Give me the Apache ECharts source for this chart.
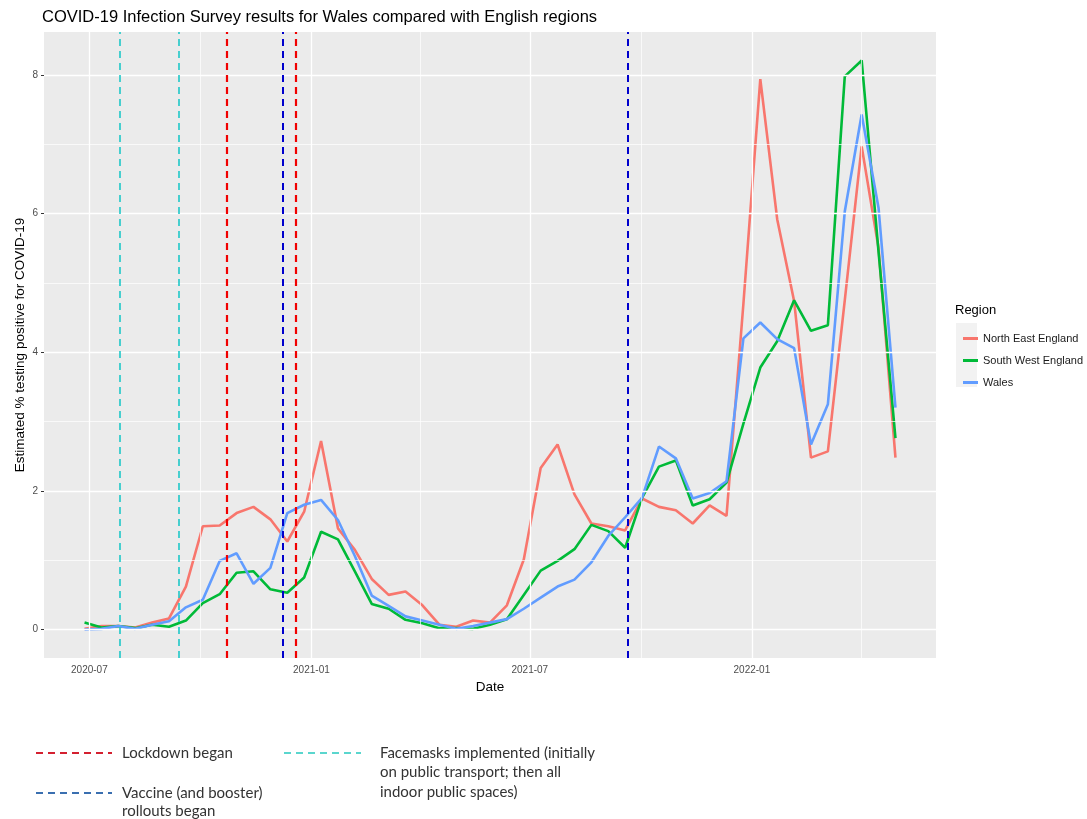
<!DOCTYPE html>
<html><head><meta charset="utf-8">
<script src="https://cdn.jsdelivr.net/npm/echarts@6/dist/echarts.min.js"></script>
<style>html,body{margin:0;padding:0;background:#fff;}#c{width:1087px;height:819px;}</style>
</head><body><div id="c"></div>
<script>
// ---- data ----
const dates = ['2020-06-27','2020-07-11','2020-07-25','2020-08-08','2020-08-22','2020-09-05','2020-09-19','2020-10-03','2020-10-17','2020-10-31',
'2020-11-14','2020-11-28','2020-12-12','2020-12-26','2021-01-09','2021-01-23','2021-02-06','2021-02-20','2021-03-06','2021-03-20',
'2021-04-03','2021-04-17','2021-05-01','2021-05-15','2021-05-29','2021-06-12','2021-06-26','2021-07-10','2021-07-24','2021-08-07',
'2021-08-21','2021-09-04','2021-09-18','2021-10-02','2021-10-16','2021-10-30','2021-11-13','2021-11-27','2021-12-11','2021-12-25',
'2022-01-08','2022-01-22','2022-02-05','2022-02-19','2022-03-05','2022-03-19','2022-04-02','2022-04-16','2022-04-30'];
const northEast = [0.01,0.05,0.05,0.03,0.10,0.16,0.62,1.49,1.50,1.68,
1.77,1.59,1.27,1.70,2.72,1.46,1.15,0.73,0.50,0.55,
0.35,0.07,0.04,0.13,0.10,0.35,1.01,2.33,2.67,1.95,
1.53,1.49,1.43,1.89,1.77,1.72,1.53,1.79,1.64,4.70,
7.94,5.92,4.74,2.48,2.57,4.75,6.97,5.50,2.48];
const southWest = [0.10,0.03,0.05,0.02,0.07,0.04,0.13,0.38,0.51,0.82,
0.84,0.58,0.53,0.75,1.41,1.30,0.84,0.37,0.30,0.14,
0.09,0.02,0.02,0.01,0.07,0.15,0.50,0.85,0.99,1.16,
1.51,1.42,1.18,1.90,2.35,2.44,1.79,1.88,2.12,2.97,
3.78,4.16,4.75,4.31,4.39,7.98,8.21,5.45,2.76];
const wales = [0.00,0.01,0.05,0.01,0.07,0.12,0.32,0.43,0.99,1.10,
0.66,0.89,1.68,1.80,1.87,1.58,1.06,0.49,0.34,0.19,
0.13,0.07,0.01,0.05,0.10,0.15,0.30,0.46,0.62,0.72,
0.97,1.35,1.62,1.90,2.64,2.47,1.89,1.97,2.14,4.20,
4.43,4.19,4.06,2.67,3.25,6.03,7.43,6.08,3.20];
const seriesNames = ['North East England','South West England','Wales'];
const xTickDates = ['2020-07-01','2021-01-01','2021-07-01','2022-01-01'];
const xMinorDates = ['2020-10-01','2021-04-01T12:00:00','2021-10-01','2022-04-01T12:00:00'];
const yTicks = [0,2,4,6,8];
const yMinor = [1,3,5,7];
const lockdownDates = ['2020-10-23','2020-12-19'];
const vaccineDates = ['2020-12-08','2021-09-20'];
const facemaskDates = ['2020-07-26','2020-09-13'];

// ---- build ----
const ts = s => new Date(s.length === 10 ? s + 'T00:00:00' : s).getTime();
const t0 = ts(dates[0]), t1 = ts(dates[dates.length-1]);
const xMin = t0 - 0.05*(t1-t0), xMax = t1 + 0.05*(t1-t0);
const allVals = northEast.concat(southWest, wales);
const vMin = Math.min(...allVals), vMax = Math.max(...allVals);
const yMin = vMin - 0.05*(vMax-vMin), yMax = vMax + 0.05*(vMax-vMin);
const pair = arr => dates.map((d,i)=>[ts(d), arr[i]]);
const colors = ['#F8766D','#00BA38','#619CFF'];
const FONT = 'Liberation Sans';

const gridMarks = [].concat(
  yMinor.map(v=>({yAxis:v, lineStyle:{width:0.7}})),
  xMinorDates.map(d=>({xAxis:ts(d), lineStyle:{width:0.7}})),
  yTicks.map(v=>({yAxis:v, lineStyle:{width:1.3}})),
  xTickDates.map(d=>({xAxis:ts(d), lineStyle:{width:1.3}}))
);
function eventSeries(name, list, color, width){
  return {name:name, type:'line', data:[], z:5, silent:true,
    markLine:{silent:true, symbol:['none','none'], label:{show:false}, animation:false,
      lineStyle:{color:color, width:width, type:[7,5]},
      data:list.map(d=>({xAxis:ts(d)}))}};
}

const chart = echarts.init(document.getElementById('c'), null, {renderer:'canvas'});
chart.setOption({
  animation:false,
  backgroundColor:'#ffffff',
  textStyle:{fontFamily:FONT},
  title:{text:'COVID-19 Infection Survey results for Wales compared with English regions',
    left:37, top:4, textStyle:{fontSize:16.5, fontWeight:'normal', color:'#000', fontFamily:FONT}},
  grid:{left:44, right:151, top:32, bottom:161, show:true, backgroundColor:'#EBEBEB', borderWidth:0},
  legend:{data:seriesNames, orient:'vertical', left:958, top:327.5, itemWidth:15, itemHeight:3, itemGap:10,
    icon:'rect', selectedMode:false,
    textStyle:{fontSize:11, color:'#1a1a1a', fontFamily:FONT, lineHeight:12}},
  xAxis:{type:'value', min:xMin, max:xMax, scale:true,
    name:'Date', nameLocation:'middle', nameGap:21, nameTextStyle:{fontSize:13.5, color:'#000', fontFamily:FONT},
    axisLine:{show:false},
    axisTick:{show:true, length:3, customValues:xTickDates.map(ts), lineStyle:{color:'#333'}},
    axisLabel:{customValues:xTickDates.map(ts), margin:7, fontSize:10, color:'#4d4d4d', fontFamily:FONT,
      formatter:function(v){const d=new Date(v);return d.getFullYear()+'-'+String(d.getMonth()+1).padStart(2,'0');}},
    splitLine:{show:false}},
  yAxis:{type:'value', min:yMin, max:yMax,
    name:'Estimated % testing positive for COVID-19', nameLocation:'middle', nameGap:17, nameMoveOverlap:false,
    nameTextStyle:{fontSize:13.5, color:'#000', fontFamily:FONT},
    axisLine:{show:false},
    axisTick:{show:true, length:3, customValues:yTicks, lineStyle:{color:'#333'}},
    axisLabel:{customValues:yTicks, margin:6, fontSize:10, color:'#4d4d4d', fontFamily:FONT},
    splitLine:{show:false}},
  series:[
    {name:'grid', type:'line', data:[], z:1, silent:true,
      markLine:{silent:true, symbol:['none','none'], label:{show:false}, animation:false,
        lineStyle:{color:'#ffffff', type:'solid'}, data:gridMarks}},
    {name:seriesNames[0], type:'line', data:pair(northEast), showSymbol:false, z:3, lineStyle:{width:2.6, color:colors[0]}, itemStyle:{color:colors[0]}},
    {name:seriesNames[1], type:'line', data:pair(southWest), showSymbol:false, z:3, lineStyle:{width:2.6, color:colors[1]}, itemStyle:{color:colors[1]}},
    {name:seriesNames[2], type:'line', data:pair(wales), showSymbol:false, z:3, lineStyle:{width:2.6, color:colors[2]}, itemStyle:{color:colors[2]}},
    eventSeries('Facemasks', facemaskDates, '#1FC8C8', 1.6),
    eventSeries('Lockdown', lockdownDates, '#F00000', 2.2),
    eventSeries('Vaccine', vaccineDates, '#0000CC', 2)
  ],
  graphic:[
    {type:'text', left:955, top:304, style:{text:'Region', fontSize:13, fill:'#000', fontFamily:FONT}},
    {type:'rect', shape:{x:956, y:323, width:21, height:64}, style:{fill:'#F2F2F2'}, z:1},
    {type:'line', shape:{x1:36,y1:753,x2:112,y2:753}, style:{stroke:'#D42030', lineWidth:2, lineDash:[7,5]}},
    {type:'line', shape:{x1:36,y1:793,x2:112,y2:793}, style:{stroke:'#3A6FB0', lineWidth:2, lineDash:[7,5]}},
    {type:'line', shape:{x1:284,y1:753,x2:361,y2:753}, style:{stroke:'#5AD6CE', lineWidth:2, lineDash:[7,5]}},
    {type:'text', x:122, y:753, style:{text:'Lockdown began', fontSize:15, fill:'#333', fontFamily:'Lato', verticalAlign:'middle'}},
    {type:'text', x:122, y:802, style:{text:'Vaccine (and booster)\nrollouts began', fontSize:15, lineHeight:18.5, fill:'#333', fontFamily:'Lato', verticalAlign:'middle'}},
    {type:'text', x:380, y:772.5, style:{text:'Facemasks implemented (initially\non public transport; then all\nindoor public spaces)', fontSize:15, lineHeight:19.5, fill:'#333', fontFamily:'Lato', verticalAlign:'middle'}}
  ]
});
</script></body></html>
